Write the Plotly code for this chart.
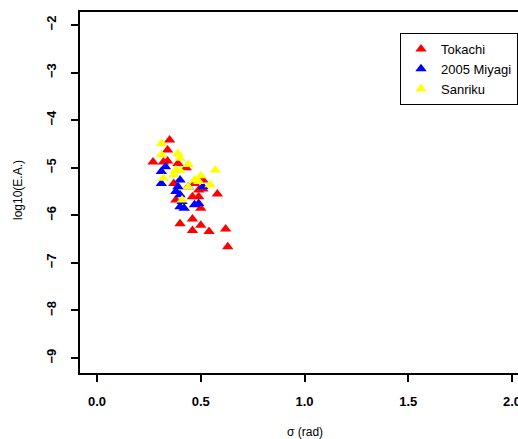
import plotly.graph_objects as go

# pixel-read values converted to data units
tokachi_x = [0.35, 0.27, 0.34, 0.34, 0.39, 0.32, 0.43, 0.37, 0.58, 0.51, 0.49, 0.46, 0.49, 0.38, 0.50, 0.46, 0.40, 0.50, 0.46, 0.54, 0.62, 0.63, 0.47, 0.51]
tokachi_y = [-4.42, -4.88, -4.63, -4.86, -4.91, -4.88, -5.00, -5.33, -5.55, -5.26, -5.47, -5.61, -5.61, -5.68, -5.85, -6.08, -6.18, -6.21, -6.32, -6.34, -6.29, -6.66, -5.33, -5.45]
miyagi_x = [0.33, 0.31, 0.31, 0.40, 0.39, 0.38, 0.40, 0.41, 0.40, 0.42, 0.47, 0.49, 0.51, 0.44]
miyagi_y = [-4.98, -5.08, -5.33, -5.26, -5.40, -5.50, -5.57, -5.71, -5.82, -5.85, -5.78, -5.75, -5.40, -5.40]
sanriku_x = [0.31, 0.31, 0.39, 0.40, 0.44, 0.38, 0.40, 0.37, 0.32, 0.57, 0.50, 0.47, 0.44, 0.545, 0.41, 0.49]
sanriku_y = [-4.49, -4.73, -4.70, -4.80, -4.93, -5.05, -5.06, -5.15, -5.22, -5.05, -5.17, -5.26, -5.40, -5.36, -5.68, -5.29]

series = [("Tokachi", tokachi_x, tokachi_y, "#ff0000"),
          ("2005 Miyagi", miyagi_x, miyagi_y, "#0000ff"),
          ("Sanriku", sanriku_x, sanriku_y, "#ffff00")]

x_ticks = [0.0, 0.5, 1.0, 1.5, 2.0]
x_ticklabels = ["0.0", "0.5", "1.0", "1.5", "2.0"]
y_ticks = [-2, -3, -4, -5, -6, -7, -8, -9]

fig = go.Figure()
for name, xs, ys, col in series:
    fig.add_trace(go.Scatter(x=xs, y=ys, mode="markers", name=name,
                             marker=dict(symbol="triangle-up", size=10, color=col,
                                         line=dict(width=0))))

font = "Liberation Sans, Arial, sans-serif"
fig.update_layout(
    width=518, height=439,
    margin=dict(l=80, r=0, t=12, b=66, autoexpand=False),
    plot_bgcolor="white", paper_bgcolor="white",
    showlegend=True,
    font=dict(family=font, color="black"),
    legend=dict(x=(400 - 80) / 438, y=(373 - 33) / 361, xanchor="left", yanchor="top",
                bordercolor="black", borderwidth=1, bgcolor="white",
                font=dict(size=13, family=font), itemwidth=30,
                tracegroupgap=0),
    xaxis=dict(range=[-0.082, 2.029], tickvals=x_ticks, ticktext=x_ticklabels,
               automargin=False, ticklabeloverflow="allow",
               showgrid=False, zeroline=False, showline=True, linecolor="black",
               linewidth=2, mirror=True, ticks="outside", ticklen=7, tickwidth=2,
               tickcolor="black", ticklabelstandoff=8,
               tickfont=dict(size=13, family=font, weight="bold")),
    yaxis=dict(range=[-9.315, -1.727], tickvals=y_ticks, automargin=False,
               showgrid=False, zeroline=False, showline=True, linecolor="black",
               linewidth=2, mirror=False, ticks="outside", ticklen=7, tickwidth=2,
               tickcolor="black", tickangle=-90, ticklabelstandoff=10,
               tickfont=dict(size=13, family=font, weight="bold")),
    annotations=[
        dict(text="σ (rad)", xref="x", yref="paper", x=1.0, y=-0.163,
             xanchor="center", yanchor="middle", showarrow=False,
             font=dict(size=12, family=font)),
        dict(text="log10(E.A.)", xref="paper", yref="paper", x=(18 - 80) / 438, y=(373 - 190) / 361,
             xanchor="center", yanchor="middle", textangle=-90, showarrow=False,
             font=dict(size=12, family=font)),
    ],
)

fig.write_html("out.html")
